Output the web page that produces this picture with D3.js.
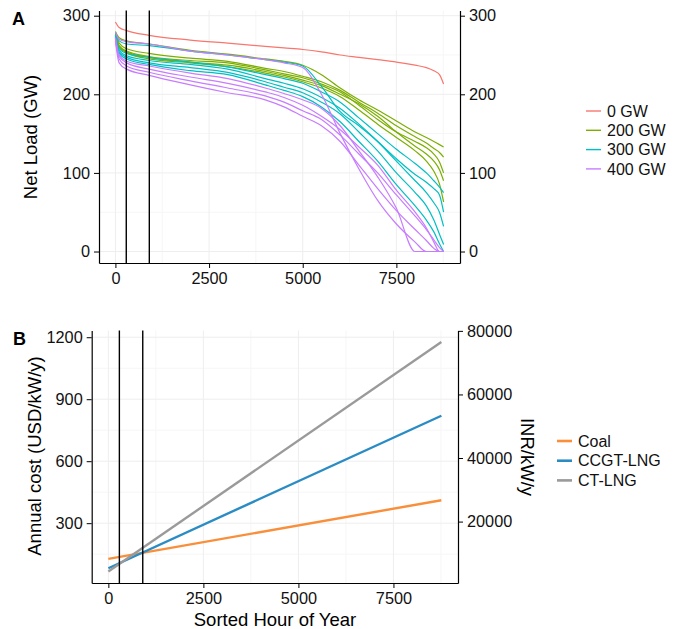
<!DOCTYPE html>
<html>
<head>
<meta charset="utf-8">
<script src="https://cdn.jsdelivr.net/npm/d3@7"></script>
<style>
  body { margin: 0; background: #fff; }
  svg { display: block; font-family: "Liberation Sans", Arial, sans-serif; }
</style>
</head>
<body>
<svg id="chart" width="679" height="629"></svg>
<script>
// ---- Panel A: sorted net-load duration curves (GW) ----
const hours = [0, 100, 300, 900, 2000, 3000, 4000, 4500, 5000, 5500, 6000, 6500, 7000, 7500, 8000, 8300, 8500, 8650, 8760];

const load0 = [292, 285, 281, 275, 269, 265, 261, 259, 257, 254, 250, 247, 244, 241, 237, 234, 230, 225, 213];

const load200a = [280, 272, 268, 264, 256, 251, 245, 242, 237, 225, 208, 193, 180, 166, 152, 145, 140, 136, 133];
const load200b = [277, 265, 258, 252, 246, 242, 233, 229, 223, 216, 205, 190, 176, 160, 146, 138, 131, 126, 120];
const load200c = [276, 262, 255, 248, 243, 240, 231, 226, 221, 213, 203, 186, 168, 152, 140, 132, 124, 114, 100];
const load200d = [275, 261, 254, 247, 241, 237, 229, 224, 218, 211, 200, 188, 172, 152, 134, 124, 115, 104, 90];
const load200e = [274, 260, 253, 245, 240, 235, 227, 222, 216, 208, 197, 180, 162, 145, 128, 115, 102, 86, 63];

const load300a = [278, 268, 264, 262, 255, 250, 244, 241, 236, 210, 178, 160, 140, 118, 98, 88, 80, 72, 50];
const load300b = [275, 258, 252, 247, 241, 235, 225, 220, 214, 203, 190, 170, 150, 130, 112, 100, 90, 82, 75];
const load300c = [274, 256, 249, 243, 238, 232, 220, 214, 207, 196, 182, 162, 140, 115, 90, 75, 62, 50, 32];
const load300d = [273, 254, 247, 240, 234, 228, 216, 209, 202, 190, 175, 152, 128, 100, 75, 58, 40, 22, 9];
const load300e = [272, 252, 245, 238, 230, 225, 212, 205, 197, 184, 165, 140, 115, 85, 58, 40, 25, 10, 0];

const load400a = [279, 270, 267, 264, 255, 250, 244, 240, 234, 200, 150, 105, 65, 35, 12, 0, 0, 0, 0];
const load400b = [272, 250, 242, 236, 227, 220, 208, 201, 193, 182, 160, 128, 95, 55, 0, 0, 0, 0, 0];
const load400c = [271, 248, 240, 232, 222, 214, 203, 196, 186, 172, 155, 133, 110, 78, 50, 30, 12, 0, 0];
const load400d = [270, 245, 236, 228, 217, 208, 198, 190, 179, 168, 148, 124, 100, 72, 45, 28, 15, 5, 0];
const load400e = [268, 240, 232, 224, 212, 202, 193, 184, 172, 160, 140, 110, 80, 52, 28, 14, 4, 0, 0];

const solarLevels = ["0 GW", "200 GW", "300 GW", "400 GW"];
const levelColors = ["#F8766D", "#7CAE00", "#00BFC4", "#C77CFF"];
const loadSeries = [
  { level: "0 GW", values: load0 },
  { level: "200 GW", values: load200a }, { level: "200 GW", values: load200b },
  { level: "200 GW", values: load200c }, { level: "200 GW", values: load200d },
  { level: "200 GW", values: load200e },
  { level: "300 GW", values: load300a }, { level: "300 GW", values: load300b },
  { level: "300 GW", values: load300c }, { level: "300 GW", values: load300d },
  { level: "300 GW", values: load300e },
  { level: "400 GW", values: load400a }, { level: "400 GW", values: load400b },
  { level: "400 GW", values: load400c }, { level: "400 GW", values: load400d },
  { level: "400 GW", values: load400e }
];

// ---- Panel B: annualised cost vs. running hours (USD/kW/y) ----
const costHours = [0, 8760];
const technologies = ["Coal", "CCGT-LNG", "CT-LNG"];
const techColors = ["#F98F3A", "#2B8CC4", "#9A9A9A"];
const costCoal = [127, 411];
const costCCGT = [82, 820];
const costCT = [66, 1177];
const usdToInr = 65;

// breakpoint hours where the cheapest technology changes
const breakHours = [290, 905];

const xTicks = [0, 2500, 5000, 7500];
const xMinor = [1250, 3750, 6250, 8750];
const loadTicks = [0, 100, 200, 300];
const loadMinor = [50, 150, 250];
const costTicks = [300, 600, 900, 1200];
const costMinor = [150, 450, 750, 1050];
const inrTicks = [20000, 40000, 60000, 80000];

// ---------------------------------------------------------------
const svg = d3.select("#chart");
const tickFont = "16.3px";
const titleFont = "18.5px";

function expand(lo, hi) { const p = (hi - lo) * 0.05; return [lo - p, hi + p]; }

const xDom = expand(0, 8760);
const loadMax = d3.max(loadSeries, s => d3.max(s.values));
const yADom = expand(0, loadMax);
const allCost = costCoal.concat(costCCGT, costCT);
const yBDom = expand(d3.min(allCost), d3.max(allCost));

const xA = d3.scaleLinear().domain(xDom).range([99, 460]);
const yA = d3.scaleLinear().domain(yADom).range([263, 10.5]);
const xB = d3.scaleLinear().domain(xDom).range([91.7, 458]);
const yB = d3.scaleLinear().domain(yBDom).range([583, 330.5]);
const yBR = d3.scaleLinear().domain(yBDom.map(d => d * usdToInr)).range(yB.range());

function grid(g, x, y, xMaj, xMin, yMaj, yMin) {
  const [x0, x1] = x.range();
  const [y0, y1] = y.range();
  const gg = g.append("g");
  gg.selectAll(".vmin").data(xMin.filter(d => x(d) <= x1)).join("line")
    .attr("x1", d => x(d)).attr("x2", d => x(d)).attr("y1", y0).attr("y2", y1)
    .attr("stroke", "#f6f6f6").attr("stroke-width", 1);
  gg.selectAll(".hmin").data(yMin).join("line")
    .attr("x1", x0).attr("x2", x1).attr("y1", d => y(d)).attr("y2", d => y(d))
    .attr("stroke", "#f6f6f6").attr("stroke-width", 1);
  gg.selectAll(".vmaj").data(xMaj).join("line")
    .attr("x1", d => x(d)).attr("x2", d => x(d)).attr("y1", y0).attr("y2", y1)
    .attr("stroke", "#eeeeee").attr("stroke-width", 1);
  gg.selectAll(".hmaj").data(yMaj).join("line")
    .attr("x1", x0).attr("x2", x1).attr("y1", d => y(d)).attr("y2", d => y(d))
    .attr("stroke", "#eeeeee").attr("stroke-width", 1);
}

function styleAxis(g) {
  g.selectAll(".domain").attr("stroke", "#000").attr("stroke-width", 1.2);
  g.selectAll(".tick line").attr("stroke", "#000").attr("stroke-width", 1);
  g.selectAll(".tick text").attr("fill", "#111").style("font-size", tickFont);
}

function axisOf(maker, scale, ticks) {
  return maker(scale).tickValues(ticks).tickFormat(d3.format("d"))
    .tickSize(5).tickSizeOuter(0).tickPadding(4);
}

// ---------------- Panel A ----------------
const pA = svg.append("g");
grid(pA, xA, yA, xTicks, xMinor, loadTicks, loadMinor);

const lineA = d3.line().x((d, i) => xA(hours[i])).y(d => yA(d)).curve(d3.curveMonotoneX);
const colorOf = d3.scaleOrdinal().domain(solarLevels).range(levelColors);

pA.append("g").selectAll("path").data(loadSeries).join("path")
  .attr("d", s => lineA(s.values))
  .attr("fill", "none")
  .attr("stroke", s => colorOf(s.level))
  .attr("stroke-width", 1.2);

pA.append("g").selectAll("line").data(breakHours).join("line")
  .attr("x1", d => xA(d)).attr("x2", d => xA(d))
  .attr("y1", yA.range()[0]).attr("y2", yA.range()[1])
  .attr("stroke", "#000").attr("stroke-width", 1.4);

pA.append("g").attr("transform", `translate(${xA.range()[0]},0)`)
  .call(axisOf(d3.axisLeft, yA, loadTicks)).call(styleAxis);
pA.append("g").attr("transform", `translate(${xA.range()[1]},0)`)
  .call(axisOf(d3.axisRight, yA, loadTicks)).call(styleAxis);
pA.append("g").attr("transform", `translate(0,${yA.range()[0]})`)
  .call(axisOf(d3.axisBottom, xA, xTicks)).call(styleAxis);

pA.append("text").attr("x", 12).attr("y", 25)
  .style("font-size", "18px").style("font-weight", "bold").text("A");
pA.append("text")
  .attr("transform", "translate(37,137) rotate(-90)")
  .attr("text-anchor", "middle").style("font-size", titleFont).text("Net Load (GW)");

const legA = pA.append("g").attr("transform", "translate(586,111)");
solarLevels.forEach((lv, i) => {
  const r = legA.append("g").attr("transform", `translate(0,${i * 19.3})`);
  r.append("line").attr("x1", 0).attr("x2", 15).attr("y1", 0).attr("y2", 0)
    .attr("stroke", levelColors[i]).attr("stroke-width", 1.4);
  r.append("text").attr("x", 21).attr("y", 0).attr("dy", "0.36em")
    .style("font-size", "16px").attr("fill", "#111").text(lv);
});

// ---------------- Panel B ----------------
const pB = svg.append("g");
grid(pB, xB, yB, xTicks, xMinor, costTicks, costMinor);

const costSeries = [
  { tech: "Coal", values: costCoal },
  { tech: "CCGT-LNG", values: costCCGT },
  { tech: "CT-LNG", values: costCT }
];
const techColor = d3.scaleOrdinal().domain(technologies).range(techColors);
const lineB = d3.line().x((d, i) => xB(costHours[i])).y(d => yB(d));

pB.append("g").selectAll("path").data(costSeries).join("path")
  .attr("d", s => lineB(s.values))
  .attr("fill", "none")
  .attr("stroke", s => techColor(s.tech))
  .attr("stroke-width", 2.4);

pB.append("g").selectAll("line").data(breakHours).join("line")
  .attr("x1", d => xB(d)).attr("x2", d => xB(d))
  .attr("y1", yB.range()[0]).attr("y2", yB.range()[1])
  .attr("stroke", "#000").attr("stroke-width", 1.4);

pB.append("g").attr("transform", `translate(${xB.range()[0]},0)`)
  .call(axisOf(d3.axisLeft, yB, costTicks)).call(styleAxis);
pB.append("g").attr("transform", `translate(${xB.range()[1]},0)`)
  .call(axisOf(d3.axisRight, yBR, inrTicks)).call(styleAxis);
pB.append("g").attr("transform", `translate(0,${yB.range()[0]})`)
  .call(axisOf(d3.axisBottom, xB, xTicks)).call(styleAxis);

pB.append("text").attr("x", 13).attr("y", 345)
  .style("font-size", "18px").style("font-weight", "bold").text("B");
pB.append("text")
  .attr("transform", "translate(41,456) rotate(-90)")
  .attr("text-anchor", "middle").style("font-size", titleFont).text("Annual cost (USD/kW/y)");
pB.append("text")
  .attr("transform", "translate(521,457) rotate(90)")
  .attr("text-anchor", "middle").style("font-size", titleFont).text("INR/kW/y");
pB.append("text")
  .attr("x", 275).attr("y", 626)
  .attr("text-anchor", "middle").style("font-size", titleFont).text("Sorted Hour of Year");

const legB = pB.append("g").attr("transform", "translate(557,441)");
technologies.forEach((t, i) => {
  const r = legB.append("g").attr("transform", `translate(0,${i * 19.7})`);
  r.append("line").attr("x1", 0).attr("x2", 15).attr("y1", 0).attr("y2", 0)
    .attr("stroke", techColors[i]).attr("stroke-width", 2.6);
  r.append("text").attr("x", 21).attr("y", 0).attr("dy", "0.36em")
    .style("font-size", "16px").attr("fill", "#111").text(t);
});
</script>
</body>
</html>
